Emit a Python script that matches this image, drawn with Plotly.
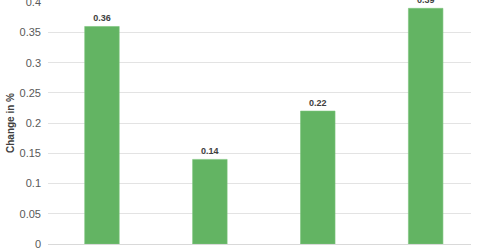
import plotly.graph_objects as go

categories = ["A", "B", "C", "D"]
values = [0.36, 0.14, 0.22, 0.39]
labels = ["0.36", "0.14", "0.22", "0.39"]
y_ticks = [0, 0.05, 0.1, 0.15, 0.2, 0.25, 0.3, 0.35, 0.4]
y_tick_text = ["0", "0.05", "0.1", "0.15", "0.2", "0.25", "0.3", "0.35", "0.4"]

fig = go.Figure(go.Bar(
    x=categories, y=values, text=labels, textposition="outside",
    textfont=dict(family="Liberation Sans, Arial", size=9, color="#404040", weight="bold"),
    marker=dict(color="#63B463", line=dict(color="#7CC47C", width=0.6)),
    width=0.32, cliponaxis=False,
))
fig.update_layout(
    width=480, height=251,
    margin=dict(l=48, r=9, t=2, b=7, autoexpand=False),
    plot_bgcolor="white", paper_bgcolor="white",
    showlegend=False,
    font=dict(family="Liberation Sans, Arial", color="#595959"),
)
fig.update_xaxes(range=[-0.5, 3.42], showticklabels=False, showgrid=False, automargin=False,
                 showline=True, linecolor="#D9D9D9", linewidth=1, zeroline=False)
fig.update_yaxes(range=[0, 0.4005], tickvals=y_ticks, ticktext=y_tick_text, automargin=False,
                 tickfont=dict(size=11, color="#595959"), ticklabeloverflow="allow",
                 showgrid=True, gridcolor="#E3E3E3", gridwidth=1, zeroline=False,
                 ticks="", ticklabelstandoff=6,
                 title=dict(text="Change in %", font=dict(size=10, color="#404040", weight="bold"), standoff=3))
fig.write_html("out.html")
